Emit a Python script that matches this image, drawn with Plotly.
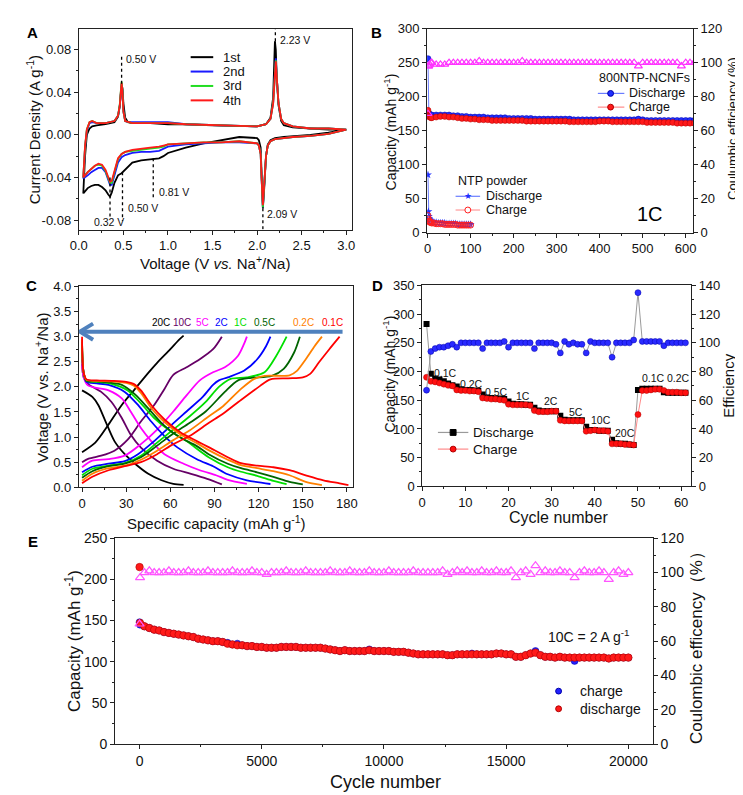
import plotly.graph_objects as go

W, H = 743, 795
FONT = "Liberation Sans, Arial, sans-serif"
AX = "#222222"

# ---------------- Panel A: cyclic voltammetry ----------------
a_an_v = [0.05, 0.07, 0.09, 0.12, 0.15, 0.20, 0.30, 0.40, 0.44, 0.46, 0.47, 0.48, 0.49,
          0.50, 0.52, 0.55, 0.60, 0.80, 1.00, 1.20, 1.50, 1.80, 2.00, 2.10, 2.15, 2.18,
          2.19, 2.20, 2.21, 2.22, 2.24, 2.27, 2.30, 2.40, 2.60, 2.80, 3.00]
a_cat_v = [3.00, 2.80, 2.60, 2.40, 2.30, 2.20, 2.15, 2.12, 2.10, 2.08, 2.065, 2.05, 2.04,
           2.02, 2.00, 1.80, 1.60, 1.40, 1.20, 1.00, 0.95, 0.90, 0.80, 0.70, 0.60, 0.52,
           0.48, 0.44, 0.40, 0.37, 0.35, 0.33, 0.30, 0.26, 0.22, 0.18, 0.14, 0.10, 0.05]

a_an_1st = [-0.055, -0.020, 0.000, 0.006, 0.008, 0.009, 0.010, 0.012, 0.017, 0.027, 0.037, 0.046, 0.044,
            0.030, 0.016, 0.012, 0.011, 0.011, 0.010, 0.010, 0.009, 0.008, 0.008, 0.010, 0.016, 0.035,
            0.060, 0.088, 0.080, 0.055, 0.028, 0.013, 0.009, 0.007, 0.006, 0.005, 0.005]
a_an_2nd = [-0.041, -0.012, 0.004, 0.011, 0.012, 0.011, 0.011, 0.013, 0.018, 0.028, 0.038, 0.048, 0.040,
            0.022, 0.013, 0.012, 0.012, 0.012, 0.012, 0.010, 0.009, 0.008, 0.008, 0.010, 0.015, 0.030,
            0.048, 0.065, 0.072, 0.055, 0.030, 0.015, 0.011, 0.008, 0.006, 0.006, 0.005]
a_an_3rd = [-0.040, -0.011, 0.005, 0.012, 0.013, 0.011, 0.011, 0.013, 0.018, 0.029, 0.040, 0.050, 0.041,
            0.022, 0.013, 0.012, 0.011, 0.011, 0.011, 0.010, 0.009, 0.008, 0.008, 0.010, 0.015, 0.030,
            0.047, 0.063, 0.070, 0.055, 0.030, 0.015, 0.011, 0.008, 0.006, 0.006, 0.005]
a_an_4th = [-0.040, -0.010, 0.005, 0.012, 0.013, 0.011, 0.011, 0.013, 0.018, 0.028, 0.039, 0.049, 0.040,
            0.022, 0.013, 0.012, 0.011, 0.011, 0.011, 0.010, 0.009, 0.008, 0.008, 0.010, 0.015, 0.029,
            0.046, 0.062, 0.069, 0.055, 0.030, 0.015, 0.011, 0.008, 0.006, 0.006, 0.005]

a_cat_1st = [0.005, 0.002, 0.000, -0.001, -0.002, -0.003, -0.005, -0.009, -0.020, -0.050, -0.069, -0.035, -0.012,
             -0.005, -0.003, -0.002, -0.005, -0.008, -0.012, -0.017, -0.020, -0.022, -0.023, -0.024, -0.026, -0.033,
             -0.036, -0.038, -0.045, -0.054, -0.058, -0.056, -0.052, -0.049, -0.047, -0.047, -0.048, -0.050, -0.055]
a_cat_2nd = [0.005, 0.001, -0.001, -0.002, -0.003, -0.004, -0.006, -0.010, -0.020, -0.046, -0.068, -0.040, -0.018,
             -0.010, -0.008, -0.007, -0.007, -0.008, -0.009, -0.011, -0.013, -0.015, -0.016, -0.016, -0.017, -0.019,
             -0.021, -0.026, -0.038, -0.047, -0.047, -0.042, -0.035, -0.031, -0.031, -0.033, -0.035, -0.038, -0.041]
a_cat_3rd = [0.005, 0.001, -0.001, -0.002, -0.003, -0.004, -0.006, -0.010, -0.020, -0.046, -0.068, -0.040, -0.018,
             -0.010, -0.008, -0.006, -0.007, -0.007, -0.008, -0.009, -0.011, -0.012, -0.013, -0.014, -0.015, -0.016,
             -0.018, -0.023, -0.035, -0.045, -0.045, -0.041, -0.034, -0.029, -0.028, -0.029, -0.032, -0.035, -0.040]
a_cat_4th = [0.005, 0.001, -0.001, -0.002, -0.003, -0.004, -0.006, -0.010, -0.020, -0.045, -0.066, -0.040, -0.018,
             -0.010, -0.008, -0.006, -0.007, -0.007, -0.008, -0.009, -0.010, -0.011, -0.012, -0.013, -0.014, -0.016,
             -0.018, -0.022, -0.033, -0.043, -0.044, -0.040, -0.033, -0.028, -0.027, -0.029, -0.032, -0.035, -0.040]

a_names = ["1st", "2nd", "3rd", "4th"]
a_colors = ["#000000", "#1a1aff", "#22dd22", "#ff1a1a"]

# dotted peak markers: line x, line ends, label position
a_peak_text = ["0.50 V", "2.23 V", "0.32 V", "0.50 V", "0.81 V", "2.09 V"]
a_peak_x = [0.48, 2.205, 0.35, 0.49, 0.835, 2.065]
a_peak_y0 = [0.048, 0.088, -0.040, -0.035, -0.022, -0.069]
a_peak_y1 = [0.076, 0.0997, -0.078, -0.081, -0.061, -0.089]
a_lab_x = [0.51, 2.235, 0.34, 0.525, 0.874, 2.086]
a_lab_y = [0.071, 0.0893, -0.0815, -0.069, -0.054, -0.0745]
a_lab_anchor = ["left", "left", "center", "left", "left", "left"]

# ---------------- Panel B: long cycling at 1C ----------------
b_cyc = [1, 2, 3, 5, 8, 10, 20, 30, 40, 50, 60, 70, 80, 90, 100, 110, 120, 130, 140, 150, 160,
         170, 180, 190, 200, 210, 220, 230, 240, 250, 260, 270, 280, 290, 300, 310, 320, 330,
         340, 350, 360, 370, 380, 390, 400, 410, 420, 430, 440, 450, 460, 470, 480, 490, 500,
         510, 520, 530, 540, 550, 560, 570, 580, 590, 600, 610, 620]
b_dis = [256, 176, 174, 174, 173, 173, 173, 173, 173, 173, 172, 172, 171, 171, 170, 170, 170, 170,
         169, 169, 169, 169, 169, 168, 168, 168, 168, 168, 168, 167, 167, 167, 167, 167, 167, 167,
         167, 167, 166, 166, 166, 166, 166, 166, 166, 166, 166, 166, 166, 166, 166, 166, 166, 167,
         166, 165, 165, 165, 165, 165, 165, 165, 165, 165, 165, 165, 165]
b_chg = [180, 172, 171, 170, 169, 169, 170, 171, 171, 170, 170, 169, 168, 168, 167, 167, 166, 166,
         166, 165, 165, 165, 165, 165, 165, 165, 165, 164, 164, 164, 164, 164, 164, 164, 164, 164,
         164, 163, 163, 163, 163, 163, 163, 163, 164, 164, 164, 163, 163, 163, 163, 163, 163, 163,
         163, 162, 162, 162, 162, 162, 162, 162, 161, 161, 161, 161, 161]
b_eff = [70, 98, 98, 99, 100, 100, 99, 99, 99, 100, 100, 100, 100, 100, 100, 100, 101, 100,
         100, 100, 100, 100, 100, 100, 100, 100, 101, 100, 100, 100, 100, 100, 100, 100, 100, 100,
         100, 100, 100, 100, 100, 100, 100, 100, 100, 100, 100, 100, 100, 100, 100, 100, 100, 98,
         100, 100, 100, 100, 100, 100, 100, 100, 100, 98, 100, 100, 100]
ntp_cyc = [1, 2, 3, 4, 5, 6, 8, 10, 15, 20, 25, 30, 35, 40, 45, 50, 55, 60, 65, 70, 75, 80, 85, 90, 95, 100]
ntp_dis = [85, 31, 24, 21, 19, 18, 17, 16, 15, 15, 14, 14, 14, 14, 13, 13, 13, 13, 13, 12, 12, 12, 12, 12, 12, 12]
ntp_chg = [25, 20, 17, 16, 16, 15, 15, 14, 14, 13, 13, 13, 13, 12, 12, 12, 12, 12, 12, 11, 11, 11, 11, 11, 11, 11]

# ---------------- Panel C: charge/discharge profiles ----------------
c_rates = ["20C", "10C", "5C", "2C", "1C", "0.5C", "0.2C", "0.1C"]
c_colors = ["#000000", "#660066", "#ff00ff", "#0000ff", "#00e000", "#006400", "#ff8000", "#ff0000"]
c_lab_x = [53.6, 67.9, 81.8, 94.9, 107.8, 123.9, 150.6, 170.2]
c_lab_y = 3.28
c_arrow_y = 3.1
c_arrow_from = 177
c_arrow_to = -1.5

c_dis_cap_20 = [0, 7, 11, 16, 22, 29, 36, 45, 54, 62, 69]
c_dis_v_20 = [1.93, 1.80, 1.64, 1.31, 0.92, 0.66, 0.47, 0.27, 0.14, 0.07, 0.05]
c_dis_cap_10 = [0, 1, 4, 13, 20, 27, 33, 40, 51, 62, 74, 85, 95]
c_dis_v_10 = [2.45, 2.2, 2.06, 1.90, 1.70, 1.38, 1.05, 0.79, 0.53, 0.37, 0.27, 0.17, 0.06]
c_dis_cap_5 = [0, 1, 4, 18, 27, 33, 40, 47, 56, 69, 80, 91, 99, 112]
c_dis_v_5 = [2.55, 2.2, 2.03, 1.93, 1.77, 1.51, 1.18, 0.92, 0.66, 0.47, 0.34, 0.24, 0.15, 0.07]
c_dis_cap_2 = [0, 1, 3, 10, 18, 29, 38, 47, 56, 65, 78, 89, 99, 112, 128]
c_dis_v_2 = [2.75, 2.3, 2.10, 2.07, 2.04, 1.90, 1.64, 1.31, 1.02, 0.79, 0.56, 0.42, 0.26, 0.14, 0.066]
c_dis_cap_1 = [0, 1, 3, 10, 20, 31, 40, 49, 60, 71, 86, 99, 108, 119, 130, 139]
c_dis_v_1 = [2.85, 2.3, 2.12, 2.10, 2.06, 1.93, 1.67, 1.38, 1.12, 0.92, 0.60, 0.40, 0.31, 0.23, 0.13, 0.066]
c_dis_cap_05 = [0, 1, 3, 10, 20, 27, 36, 45, 54, 65, 78, 86, 99, 108, 119, 130, 141, 150]
c_dis_v_05 = [2.9, 2.3, 2.12, 2.11, 2.08, 2.04, 1.85, 1.57, 1.28, 1.02, 0.82, 0.66, 0.47, 0.38, 0.30, 0.21, 0.11, 0.06]
c_dis_cap_02 = [0, 1, 3, 10, 20, 30, 35, 40, 47, 56, 67, 78, 86, 99, 108, 119, 130, 141, 152, 163]
c_dis_v_02 = [2.95, 2.3, 2.14, 2.12, 2.11, 2.08, 2.03, 1.88, 1.58, 1.30, 1.05, 0.88, 0.74, 0.55, 0.44, 0.38, 0.32, 0.24, 0.11, 0.045]
c_dis_cap_01 = [0, 1, 3, 10, 20, 30, 35, 40, 47, 56, 67, 78, 86, 99, 108, 119, 130, 141, 152, 164, 175, 181]
c_dis_v_01 = [3.0, 2.3, 2.15, 2.13, 2.12, 2.10, 2.06, 1.93, 1.64, 1.35, 1.09, 0.92, 0.80, 0.60, 0.48, 0.43, 0.40, 0.34, 0.24, 0.14, 0.08, 0.045]

c_chg_cap_20 = [0, 9, 18, 27, 36, 45, 51, 60, 66, 69]
c_chg_v_20 = [0.70, 0.89, 1.25, 1.64, 1.96, 2.28, 2.48, 2.75, 2.94, 3.02]
c_chg_cap_10 = [0, 4.5, 13, 22, 31, 40, 49, 56, 62, 71, 80, 89, 95]
c_chg_v_10 = [0.50, 0.57, 0.63, 0.73, 0.95, 1.31, 1.64, 1.96, 2.24, 2.39, 2.55, 2.75, 3.0]
c_chg_cap_5 = [0, 7, 18, 29, 40, 51, 62, 71, 80, 89, 97, 106, 110, 112]
c_chg_v_5 = [0.40, 0.53, 0.56, 0.63, 0.86, 1.15, 1.51, 1.83, 2.13, 2.29, 2.39, 2.62, 2.85, 3.0]
c_chg_cap_2 = [0, 7, 18, 29, 38, 49, 60, 71, 82, 89, 93, 99, 110, 119, 125, 128]
c_chg_v_2 = [0.30, 0.41, 0.47, 0.52, 0.66, 0.92, 1.22, 1.51, 1.80, 2.04, 2.13, 2.19, 2.32, 2.55, 2.81, 3.0]
c_chg_cap_1 = [0, 7, 18, 29, 40, 51, 62, 73, 84, 93, 101, 112, 124, 132, 139]
c_chg_v_1 = [0.24, 0.37, 0.43, 0.48, 0.63, 0.89, 1.15, 1.41, 1.70, 2.00, 2.16, 2.19, 2.29, 2.62, 3.0]
c_chg_cap_05 = [0, 7, 18, 29, 40, 51, 62, 73, 84, 97, 106, 115, 129, 137, 144, 148]
c_chg_v_05 = [0.19, 0.32, 0.42, 0.47, 0.60, 0.83, 1.07, 1.28, 1.51, 1.90, 2.13, 2.18, 2.22, 2.36, 2.68, 3.0]
c_chg_cap_02 = [0, 7, 18, 29, 40, 51, 62, 73, 86, 96, 108, 117, 124, 141, 146, 152, 158, 163]
c_chg_v_02 = [0.13, 0.27, 0.38, 0.43, 0.55, 0.73, 0.94, 1.13, 1.41, 1.62, 1.96, 2.16, 2.22, 2.23, 2.32, 2.55, 2.81, 3.0]
c_chg_cap_01 = [0, 7, 18, 29, 40, 51, 62, 73, 86, 96, 108, 121, 128, 140, 150, 155, 161, 168, 175]
c_chg_v_01 = [0.08, 0.21, 0.34, 0.42, 0.50, 0.66, 0.86, 1.02, 1.28, 1.47, 1.74, 2.02, 2.15, 2.17, 2.19, 2.26, 2.49, 2.75, 3.0]

# ---------------- Panel D: rate capability ----------------
d_cyc = list(range(1, 62))
d_dis = [283, 196, 188, 186, 183, 179, 176, 174, 169, 168, 168, 167, 166, 160, 155, 154, 153, 153,
         152, 148, 144, 143, 143, 142, 142, 137, 132, 131, 131, 131, 131, 123, 116, 115, 115, 115,
         115, 104, 98, 98, 97, 97, 97, 81, 75, 74, 74, 73, 72, 168, 170, 170, 170, 170, 170, 164,
         163, 163, 163, 163, 163]
d_chg = [190, 183, 182, 180, 178, 176, 175, 168, 167, 167, 166, 166, 165, 154, 153, 152, 152, 151,
         150, 143, 142, 142, 142, 142, 141, 132, 130, 130, 130, 131, 131, 115, 114, 114, 114, 114,
         114, 96, 97, 98, 97, 97, 96, 74, 74, 74, 73, 73, 72, 125, 167, 167, 168, 169, 169, 167,
         164, 164, 164, 163, 163]
d_eff = [67, 94, 96, 97, 97, 98, 99, 97, 100, 100, 100, 100, 100, 96, 100, 100, 100, 100, 101,
         97, 100, 100, 100, 100, 100, 96, 100, 100, 100, 100, 99, 93, 101, 99, 100, 99, 99, 93, 101,
         100, 100, 100, 100, 90, 100, 100, 100, 100, 102, 135, 101, 101, 101, 101, 101, 98, 100,
         100, 100, 100, 100]
d_rate_text = ["0.1C", "0.2C", "0.5C", "1C", "2C", "5C", "10C", "20C", "0.1C", "0.2C"]
d_rate_x = [5.5, 11.4, 17.3, 23.3, 29.8, 35.6, 41.5, 47.0, 53.6, 59.5]
d_rate_y = [198, 179, 165, 158, 148, 130, 115, 93, 188, 188]

# ---------------- Panel E: long cycling at 10C ----------------
e_cyc = [1, 20] + list(range(200, 20001, 200))
e_dis = [215, 147,
         143, 141, 139, 138, 136, 135, 134, 133, 132, 131,
         130, 128, 127, 126, 125, 125, 124, 122, 121, 120,
         120, 119, 119, 118, 118, 117, 117, 117, 118, 118,
         118, 118, 117, 117, 117, 117, 117, 116, 115, 114,
         113, 114, 113, 113, 113, 113, 114, 113, 113, 113,
         113, 112, 112, 112, 111, 110, 109, 109, 109, 109,
         109, 109, 108, 108, 109, 109, 109, 109, 109, 109,
         109, 109, 110, 110, 109, 109, 106, 106, 108, 110,
         111, 108, 106, 106, 105, 106, 105, 105, 105, 105,
         105, 105, 105, 105, 105, 104, 105, 105, 105, 105]
e_chg = [148, 145,
         143, 141, 139, 138, 136, 135, 134, 133, 132, 131,
         130, 128, 127, 126, 125, 125, 124, 123, 121, 122,
         120, 119, 119, 118, 118, 117, 117, 117, 118, 118,
         118, 118, 117, 117, 117, 117, 117, 116, 115, 114,
         113, 114, 113, 113, 113, 113, 115, 113, 113, 113,
         113, 112, 112, 112, 111, 110, 109, 109, 109, 109,
         109, 109, 108, 108, 109, 109, 109, 110, 109, 109,
         109, 109, 110, 110, 109, 109, 106, 106, 108, 110,
         113, 108, 106, 106, 105, 106, 105, 105, 101, 105,
         105, 105, 105, 105, 105, 104, 105, 105, 105, 105]
e_eff = [70, 97,
         100, 101, 100, 100, 100, 101, 100, 100, 100, 101,
         100, 100, 100, 101, 100, 100, 100, 100, 101, 100,
         100, 100, 101, 100, 100, 99, 100, 100, 100, 101,
         100, 100, 100, 101, 100, 100, 100, 100, 101, 100,
         100, 100, 101, 100, 100, 100, 101, 100, 100, 100,
         101, 100, 100, 100, 100, 101, 100, 100, 100, 100,
         100, 101, 99, 100, 101, 100, 101, 100, 100, 101,
         100, 100, 101, 100, 100, 101, 97, 100, 101, 99,
         104, 100, 101, 100, 100, 101, 100, 100, 97, 100,
         101, 100, 100, 101, 100, 96, 100, 101, 99, 100]


def xax(box, rng, dtick, mdtick, anchor, size=13, **kw):
    l, t, r, b = box
    d = dict(domain=[l / W, r / W], range=rng, anchor=anchor, tick0=0, dtick=dtick,
             showline=True, linecolor=AX, linewidth=1, mirror=True,
             ticks="outside", ticklen=4, tickcolor=AX, showgrid=False, zeroline=False,
             tickfont=dict(size=size, color="#111"),
             minor=dict(ticks="outside", ticklen=2, tick0=0, dtick=mdtick, tickcolor=AX, showgrid=False))
    d.update(kw)
    return d


def yax(box, rng, dtick, mdtick, anchor, size=13, **kw):
    l, t, r, b = box
    d = dict(domain=[1 - b / H, 1 - t / H], range=rng, anchor=anchor, tick0=0, dtick=dtick,
             showline=True, linecolor=AX, linewidth=1, mirror=True,
             ticks="outside", ticklen=4, tickcolor=AX, showgrid=False, zeroline=False,
             tickfont=dict(size=size, color="#111"),
             minor=dict(ticks="outside", ticklen=2, tick0=0, dtick=mdtick, tickcolor=AX, showgrid=False))
    d.update(kw)
    return d


def ryax(rng, dtick, mdtick, anchor, over, size=13):
    return dict(range=rng, anchor=anchor, overlaying=over, side="right", tick0=0, dtick=dtick,
                showline=True, linecolor=AX, linewidth=1, ticks="outside", ticklen=4,
                tickcolor=AX, showgrid=False, zeroline=False, tickfont=dict(size=size, color="#111"),
                minor=dict(ticks="outside", ticklen=2, tick0=0, dtick=mdtick, tickcolor=AX, showgrid=False))


BOX_A = (63, 13, 341, 218)
BOX_B = (418, 13, 689, 221)
BOX_C = (63, 276, 342, 481)
BOX_D = (413, 275, 687, 480)
BOX_E = (100, 533, 648, 743)

fig = go.Figure()

# Panel A traces
a_an = [a_an_1st, a_an_2nd, a_an_3rd, a_an_4th]
a_cat = [a_cat_1st, a_cat_2nd, a_cat_3rd, a_cat_4th]
for name, col, an, cat in zip(a_names, a_colors, a_an, a_cat):
    fig.add_trace(go.Scatter(x=a_an_v + a_cat_v, y=an + cat, mode="lines", name=name,
                             line=dict(color=col, width=1.8), xaxis="x", yaxis="y"))

# Panel B traces
fig.add_trace(go.Scatter(x=b_cyc, y=b_eff, mode="markers", xaxis="x2", yaxis="y3",
                         marker=dict(symbol="triangle-up-open", size=7, color="#ff33ff", line=dict(width=1.2))))
fig.add_trace(go.Scatter(x=b_cyc, y=b_dis, mode="lines+markers", xaxis="x2", yaxis="y2",
                         line=dict(color="#6a7dff", width=1),
                         marker=dict(symbol="circle", size=6, color="#1f2fff", line=dict(color="#0000aa", width=0.5))))
fig.add_trace(go.Scatter(x=b_cyc, y=b_chg, mode="lines+markers", xaxis="x2", yaxis="y2",
                         line=dict(color="#ff8a8a", width=1),
                         marker=dict(symbol="circle", size=6, color="#ff1a1a", line=dict(color="#b00000", width=0.5))))
fig.add_trace(go.Scatter(x=ntp_cyc, y=ntp_dis, mode="lines+markers", xaxis="x2", yaxis="y2",
                         line=dict(color="#6a7dff", width=1),
                         marker=dict(symbol="star", size=6, color="#1f2fff")))
fig.add_trace(go.Scatter(x=ntp_cyc, y=ntp_chg, mode="lines+markers", xaxis="x2", yaxis="y2",
                         line=dict(color="#ff9a9a", width=1),
                         marker=dict(symbol="circle-open", size=6, color="#ff2020", line=dict(width=1))))

# Panel C traces
c_dis_cap = [c_dis_cap_20, c_dis_cap_10, c_dis_cap_5, c_dis_cap_2, c_dis_cap_1, c_dis_cap_05, c_dis_cap_02, c_dis_cap_01]
c_dis_v = [c_dis_v_20, c_dis_v_10, c_dis_v_5, c_dis_v_2, c_dis_v_1, c_dis_v_05, c_dis_v_02, c_dis_v_01]
c_chg_cap = [c_chg_cap_20, c_chg_cap_10, c_chg_cap_5, c_chg_cap_2, c_chg_cap_1, c_chg_cap_05, c_chg_cap_02, c_chg_cap_01]
c_chg_v = [c_chg_v_20, c_chg_v_10, c_chg_v_5, c_chg_v_2, c_chg_v_1, c_chg_v_05, c_chg_v_02, c_chg_v_01]
for i in range(len(c_rates)):
    for xs, ys in ((c_dis_cap[i], c_dis_v[i]), (c_chg_cap[i], c_chg_v[i])):
        fig.add_trace(go.Scatter(x=xs, y=ys, mode="lines", xaxis="x3", yaxis="y4",
                                 line=dict(color=c_colors[i], width=1.8, shape="spline", smoothing=0.8)))

# Panel D traces
fig.add_trace(go.Scatter(x=d_cyc, y=d_eff, mode="lines+markers", xaxis="x4", yaxis="y6",
                         line=dict(color="#9a9a9a", width=1),
                         marker=dict(symbol="circle", size=6, color="#2a2aff", line=dict(color="#0000aa", width=0.5))))
fig.add_trace(go.Scatter(x=d_cyc, y=d_dis, mode="lines+markers", xaxis="x4", yaxis="y5",
                         line=dict(color="#9a9a9a", width=1),
                         marker=dict(symbol="square", size=6, color="#000000")))
fig.add_trace(go.Scatter(x=d_cyc, y=d_chg, mode="lines+markers", xaxis="x4", yaxis="y5",
                         line=dict(color="#ff8a8a", width=1),
                         marker=dict(symbol="circle", size=6, color="#ff1010", line=dict(color="#b00000", width=0.5))))

# Panel E traces
fig.add_trace(go.Scatter(x=e_cyc, y=e_eff, mode="markers", xaxis="x5", yaxis="y8",
                         marker=dict(symbol="triangle-up-open", size=8, color="#ff55ff", line=dict(width=1.2))))
fig.add_trace(go.Scatter(x=e_cyc, y=e_chg, mode="markers", xaxis="x5", yaxis="y7",
                         marker=dict(symbol="circle", size=7, color="#2222ff", line=dict(color="#0000aa", width=0.5))))
fig.add_trace(go.Scatter(x=e_cyc, y=e_dis, mode="markers", xaxis="x5", yaxis="y7",
                         marker=dict(symbol="circle", size=7.5, color="#ff1a1a", line=dict(color="#b00000", width=0.6))))

# ---------------- shapes and annotations ----------------
shapes = []
ann = []


def px(x, y):
    return x / W, 1 - y / H


def label(x, y, s, size, angle=0, xanchor="center", color="#111", bold=False):
    xp, yp = px(x, y)
    if bold:
        s = "<b>" + s + "</b>"
    ann.append(dict(xref="paper", yref="paper", x=xp, y=yp, text=s, showarrow=False,
                    textangle=angle, xanchor=xanchor, yanchor="middle",
                    font=dict(size=size, color=color, family=FONT)))


def key_line(x0, x1, y, color, width=1.5):
    a, b = px(x0, y)
    c, _ = px(x1, y)
    shapes.append(dict(type="line", xref="paper", yref="paper", x0=a, x1=c, y0=b, y1=b,
                       line=dict(color=color, width=width)))


def key_marker(x, y, kind, fill, edge, r=3):
    x0, y0 = px(x - r, y + r)
    x1, y1 = px(x + r, y - r)
    shapes.append(dict(type="circle" if kind == "circle" else "rect", xref="paper", yref="paper",
                       x0=x0, x1=x1, y0=y0, y1=y1, fillcolor=fill, line=dict(color=edge, width=1)))


# panel letters
for letter, (lx, ly) in zip("ABCDE", [(16, 17), (366, 17), (15, 275), (367, 275), (16, 536)]):
    label(lx, ly, letter, 15, bold=True, color="#000")

# axis titles
label(17, 116, "Current Density (A g<sup>-1</sup>)", 15, angle=-90)
label(202, 252, "Voltage (V <i>vs.</i> Na<sup>+</sup>/Na)", 15)
label(380, 118, "Capacity (mAh g<sup>-1</sup>)", 14, angle=-90)
label(729, 115, "Coulumbic efficiency (%)", 13, angle=-90)
label(25, 380, "Voltage (V vs. Na<sup>+</sup>/Na)", 15, angle=-90)
label(203, 517, "Specific capacity (mAh g<sup>-1</sup>)", 15)
label(379, 365, "Capacity (mAh g<sup>-1</sup>)", 14, angle=-90)
label(725, 377, "Efficiency", 15, angle=-90)
label(552, 512, "Cycle number", 16)
label(57, 638, "Capacity (mAh g<sup>-1</sup>)", 17, angle=-90)
label(692, 640, "Coulombic efficency\uff08%\uff09", 17, angle=-90)
label(376, 782, "Cycle number", 18)

# panel A legend + peak markers
for k, (name, col) in enumerate(zip(a_names, a_colors)):
    yy = 42 + 14.7 * k
    key_line(177, 200, yy, col, 2)
    label(208, yy, name, 13, xanchor="left")
for k in range(len(a_peak_text)):
    shapes.append(dict(type="line", xref="x", yref="y", x0=a_peak_x[k], x1=a_peak_x[k],
                       y0=a_peak_y0[k], y1=a_peak_y1[k], line=dict(color="#000", width=1.3, dash="dot")))
    ann.append(dict(xref="x", yref="y", x=a_lab_x[k], y=a_lab_y[k], text=a_peak_text[k], showarrow=False,
                    xanchor=a_lab_anchor[k], yanchor="middle", font=dict(size=10.5, color="#111")))

# panel B legends
label(591, 63, "800NTP-NCNFs", 12.5, xanchor="left")
key_line(592, 619, 79, "#6a7dff", 1.2)
key_marker(605, 79, "circle", "#1f2fff", "#0000aa")
label(622, 79, "Discharge", 12.5, xanchor="left")
key_line(592, 619, 93, "#ff8a8a", 1.2)
key_marker(605, 93, "circle", "#ff1a1a", "#b00000")
label(622, 93, "Charge", 12.5, xanchor="left")
label(447, 168, "NTP powder", 12.5, xanchor="left")
key_line(447, 472, 184, "#6a7dff", 1.2)
label(459.5, 184, "\u2605", 9, color="#1f2fff")
label(476, 184, "Discharge", 12.5, xanchor="left")
key_line(447, 472, 198, "#ff9a9a", 1.2)
key_marker(459.5, 198, "circle", "#ffffff", "#ff2020")
label(476, 198, "Charge", 12.5, xanchor="left")
label(645, 202, "1C", 20, color="#000")

# panel C rate labels + arrow
for k, rate in enumerate(c_rates):
    ann.append(dict(xref="x3", yref="y4", x=c_lab_x[k], y=c_lab_y, text=rate, showarrow=False,
                    xanchor="center", yanchor="middle", font=dict(size=10, color=c_colors[k])))
shapes.append(dict(type="line", xref="x3", yref="y4", x0=c_arrow_from, x1=c_arrow_to + 1,
                   y0=c_arrow_y, y1=c_arrow_y, line=dict(color="#4f81bd", width=4)))
shapes.append(dict(type="path", xref="x3", yref="y4",
                   path=f"M {c_arrow_to + 9},{c_arrow_y + 0.16} L {c_arrow_to},{c_arrow_y} L {c_arrow_to + 9},{c_arrow_y - 0.16}",
                   line=dict(color="#4f81bd", width=4)))

# panel D labels + legend
for k, t in enumerate(d_rate_text):
    ann.append(dict(xref="x4", yref="y5", x=d_rate_x[k], y=d_rate_y[k], text=t, showarrow=False,
                    xanchor="center", yanchor="middle", font=dict(size=10.5, color="#111")))
key_line(429, 460, 425, "#9a9a9a", 1.2)
key_marker(444.5, 425, "square", "#000000", "#000000")
label(463, 425, "Discharge", 13.5, xanchor="left")
key_line(429, 460, 442, "#ff8a8a", 1.2)
key_marker(444.5, 442, "circle", "#ff1010", "#b00000")
label(463, 442, "Charge", 13.5, xanchor="left")

# panel E legend + note
key_marker(552, 689, "circle", "#2222ff", "#0000aa")
label(572, 689, "charge", 14, xanchor="left")
key_marker(552, 707, "circle", "#ff1a1a", "#b00000")
label(572, 707, "discharge", 14, xanchor="left")
label(539, 633, "10C = 2 A g<sup>-1</sup>", 14, xanchor="left")

a_ytick = [-0.08, -0.04, 0.0, 0.04, 0.08]

fig.update_layout(
    width=W, height=H, margin=dict(l=0, r=0, t=0, b=0), showlegend=False,
    paper_bgcolor="white", plot_bgcolor="white", font=dict(family=FONT, color="#111"),
    xaxis=xax(BOX_A, [0, 3.06], 0.5, 0.25, "y", tickformat=".1f"),
    yaxis=yax(BOX_A, [-0.089, 0.0997], 0.04, 0.02, "x", tickmode="array", tickvals=a_ytick,
              ticktext=[f"{v:.2f}" for v in a_ytick]),
    xaxis2=xax(BOX_B, [-1, 617], 100, 50, "y2"),
    yaxis2=yax(BOX_B, [0, 300], 50, 25, "x2", mirror=False),
    yaxis3=ryax([0, 120], 20, 10, "x2", "y2"),
    xaxis3=xax(BOX_C, [-2.2, 183.8], 30, 15, "y4"),
    yaxis4=yax(BOX_C, [0, 4], 0.5, 0.25, "x3", tickformat=".1f"),
    xaxis4=xax(BOX_D, [0, 62.3], 10, 5, "y5"),
    yaxis5=yax(BOX_D, [0, 350], 50, 25, "x4", mirror=False),
    yaxis6=ryax([0, 140], 20, 10, "x4", "y5"),
    xaxis5=xax(BOX_E, [-1000, 21000], 5000, 2500, "y7", size=14, tickformat="d"),
    yaxis7=yax(BOX_E, [0, 250], 50, 25, "x5", size=14, mirror=False),
    yaxis8=ryax([0, 120], 20, 10, "x5", "y7", size=14),
    shapes=shapes, annotations=ann,
)

fig.write_html("out.html")
